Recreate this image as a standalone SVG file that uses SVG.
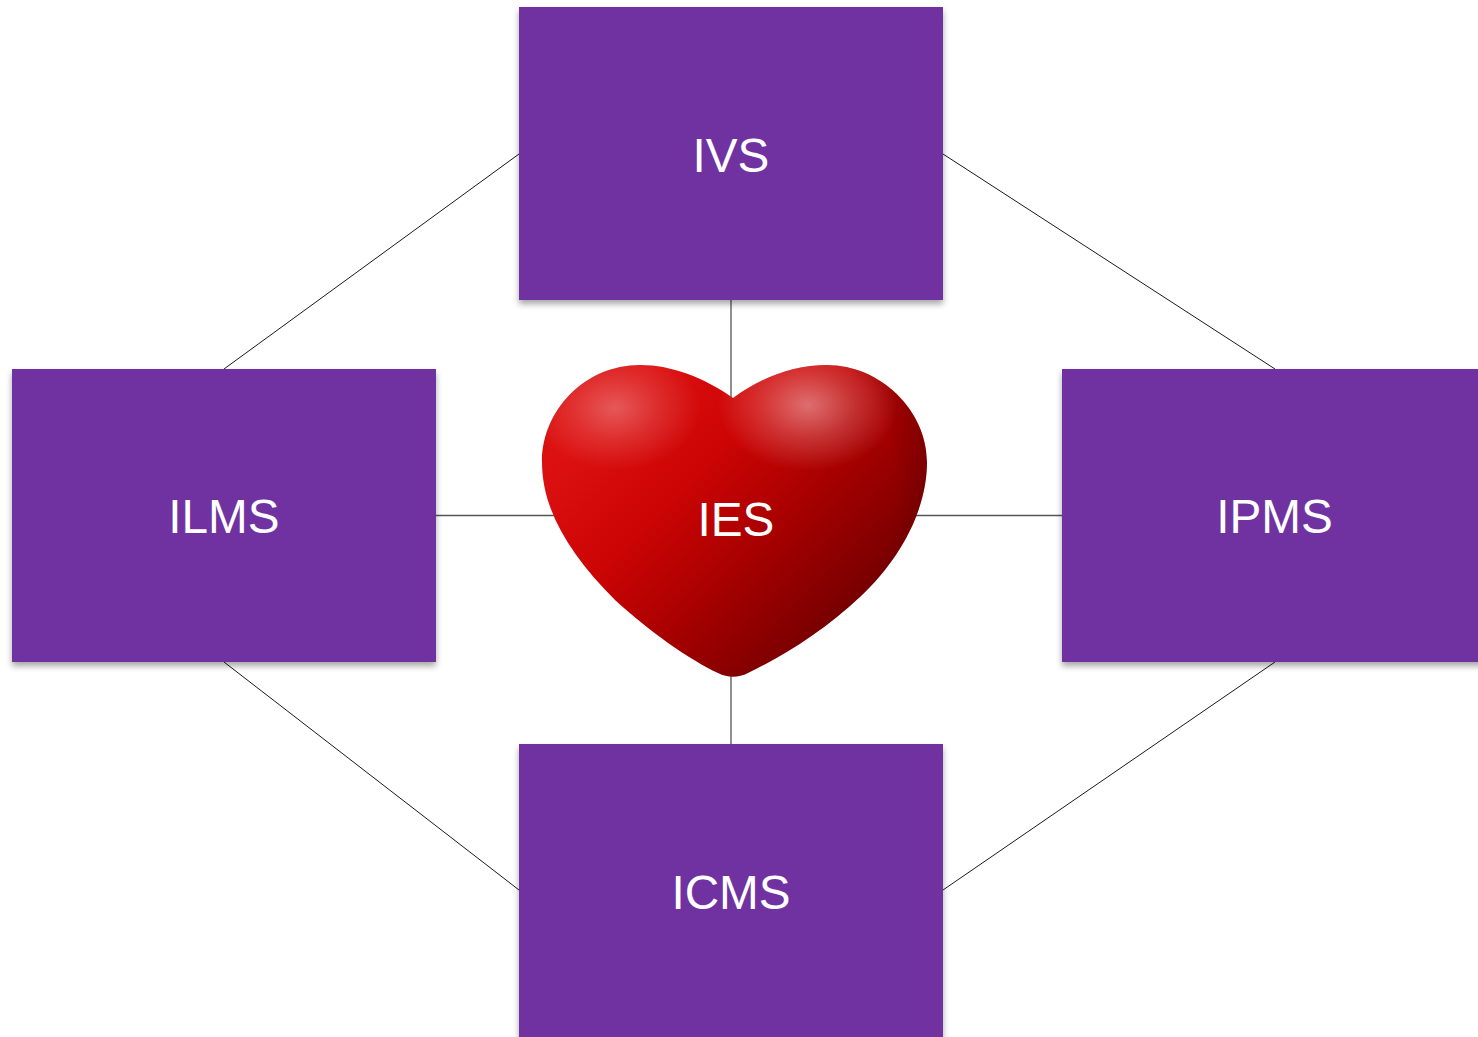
<svg xmlns="http://www.w3.org/2000/svg" width="1478" height="1037" viewBox="0 0 1478 1037">
<style>
.box{fill:#7030a0;filter:url(#shadow)}
.lbl{font-family:"Liberation Sans",Arial,sans-serif;font-size:47.700px;fill:#fff;text-anchor:middle}
.thin{stroke:#1a1a1a;stroke-width:1;fill:none}
.axis{stroke:#555;stroke-width:1.300;fill:none}
</style>
<defs>
<filter id="shadow" x="-5%" y="-5%" width="110%" height="115%"><feDropShadow dx="0" dy="4" stdDeviation="3" flood-color="#000" flood-opacity="0.35"/></filter>
<path id="heartShape" d="M733 398C705 378 672 365 640 365C585 365 542 410 542 462C542 510 570 555 615 600C650 632 690 660 718 673C728 678 738 678 748 673C785 655 825 630 860 597C900 560 927 510 927 462C927 410 880 365 827 365C793 365 760 378 733 398Z"/>
<linearGradient id="hb" gradientUnits="userSpaceOnUse" x1="600" y1="420" x2="850" y2="670">
<stop offset="0" stop-color="#dc1010"/><stop offset="0.3" stop-color="#cc0404"/><stop offset="0.6" stop-color="#a30000"/><stop offset="0.85" stop-color="#7c0000"/><stop offset="1" stop-color="#520000"/>
</linearGradient>
<radialGradient id="h1" gradientUnits="userSpaceOnUse" cx="0" cy="0" r="1" gradientTransform="translate(615 408) scale(85 62)"><stop offset="0" stop-color="#f0a0a0" stop-opacity=".5"/><stop offset="0.5" stop-color="#f0a0a0" stop-opacity=".22"/><stop offset="1" stop-color="#f0a0a0" stop-opacity="0"/></radialGradient>
<radialGradient id="h2" gradientUnits="userSpaceOnUse" cx="0" cy="0" r="1" gradientTransform="translate(808 405) scale(90 66)"><stop offset="0" stop-color="#f0b0b0" stop-opacity=".62"/><stop offset="0.5" stop-color="#f0b0b0" stop-opacity=".28"/><stop offset="1" stop-color="#f0b0b0" stop-opacity="0"/></radialGradient>
<radialGradient id="rim" gradientUnits="userSpaceOnUse" cx="720" cy="490" r="235"><stop offset="0.75" stop-color="#400000" stop-opacity="0"/><stop offset="1" stop-color="#400000" stop-opacity=".4"/></radialGradient>
</defs>
<g id="connectors">
<path class="thin" d="M519 154L224 369M943 154L1275 369M224 662L519 890M1275 662L943 890"/>
<path class="axis" d="M731 300V400M731 676V744M436 515.500H560M910 515.500H1062"/>
</g>
<g id="IVS"><rect class="box" x="519" y="7" width="424" height="293"/><text class="lbl" x="731" y="172">IVS</text></g>
<g id="ILMS"><rect class="box" x="12" y="369" width="424" height="293"/><text class="lbl" x="224" y="532.500">ILMS</text></g>
<g id="IPMS"><rect class="box" x="1062" y="369" width="424" height="293"/><text class="lbl" x="1274.500" y="532.500">IPMS</text></g>
<g id="ICMS"><rect class="box" x="519" y="744" width="424" height="293"/><text class="lbl" x="731" y="908.500">ICMS</text></g>
<g id="IES">
<use href="#heartShape" fill="url(#hb)"/>
<use href="#heartShape" fill="url(#rim)"/>
<use href="#heartShape" fill="url(#h1)"/>
<use href="#heartShape" fill="url(#h2)"/>
<text class="lbl" x="736" y="535.500">IES</text>
</g>
</svg>
